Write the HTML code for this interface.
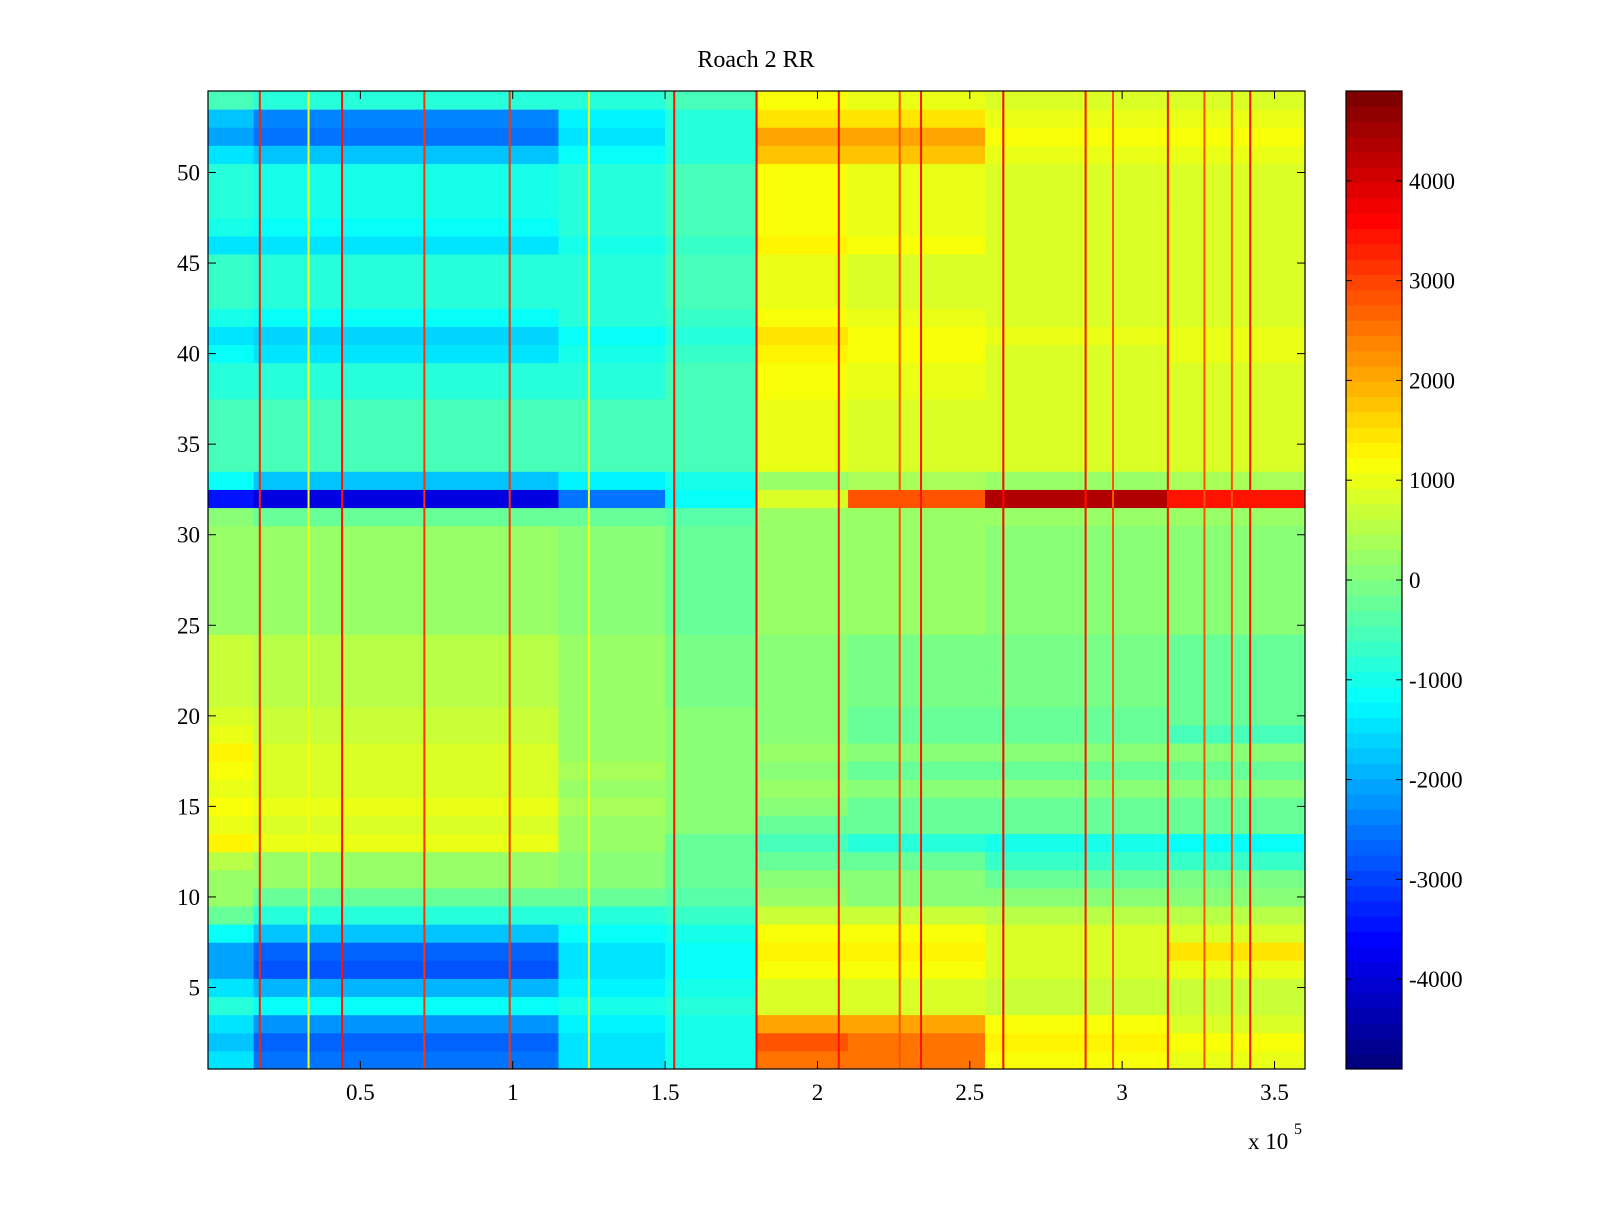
<!DOCTYPE html>
<html><head><meta charset="utf-8"><style>
body{margin:0;background:#fff;}
svg text{font-family:"Liberation Serif",serif;fill:#000;}
</style></head><body>
<svg id="chart" width="1600" height="1200" viewBox="0 0 1600 1200" xmlns="http://www.w3.org/2000/svg">
<rect x="0" y="0" width="1600" height="1200" fill="#fff"/>
<text x="756" y="67" font-size="24" text-anchor="middle">Roach 2 RR</text>
<g id="cells"></g>
<g id="spikes"></g>
<rect x="208" y="91" width="1097" height="978" fill="none" stroke="#000" stroke-width="1.2"/>
<g id="axes"></g>
<g id="cbar"></g>
<text x="1248" y="1149" font-size="23">x 10</text>
<text x="1294" y="1134" font-size="16">5</text>
</svg>
<script>
// x block edges (units of 1e5)
const blockEdges = [0, 0.15, 1.15, 1.5, 1.8, 2.1, 2.55, 3.15, 3.6];
// row values, row 1 (bottom) to row 54 (top)
const rowValues = [
[-1500,-2500,-1500,-1000,2600,2500,1200,1000],
[-1800,-2700,-1500,-1000,2800,2600,1300,1100],
[-1500,-2200,-1300,-1000,2000,2000,1100,900],
[-800,-1200,-1000,-900,900,900,700,700],
[-1500,-1900,-1300,-1000,800,800,700,700],
[-2000,-2800,-1500,-1200,1200,1200,900,1000],
[-2000,-2700,-1500,-1200,1300,1300,900,1500],
[-1200,-1700,-1200,-1000,1200,1100,800,900],
[-300,-800,-800,-700,700,700,500,600],
[200,-200,-300,-400,200,100,0,100],
[300,200,0,-200,0,0,-200,-100],
[500,300,0,-300,-200,-300,-700,-700],
[1300,1000,300,-200,-500,-800,-1000,-1100],
[1000,900,300,0,-200,-300,-300,-300],
[1200,1000,400,0,0,-200,-200,-200],
[1000,900,300,0,200,0,0,0],
[1200,800,400,0,0,-200,-200,-300],
[1300,800,300,0,200,0,0,0],
[1000,700,300,0,0,-300,-300,-500],
[800,700,200,0,0,-200,-200,-300],
[700,600,200,-100,100,-100,-100,-200],
[700,600,200,-100,100,-100,-100,-200],
[700,600,200,-100,100,-100,-100,-200],
[700,600,200,-100,100,-100,-100,-200],
[300,300,0,-200,200,200,100,0],
[300,300,0,-200,200,200,100,0],
[300,300,0,-200,200,200,100,0],
[300,300,0,-200,200,200,100,0],
[300,300,0,-200,200,200,100,0],
[300,300,0,-200,200,200,100,0],
[0,-200,-300,-400,300,300,300,300],
[-3500,-3900,-2500,-1200,800,2800,4300,3500],
[-1200,-1800,-1300,-1000,300,400,300,400],
[-500,-600,-600,-500,1000,900,800,800],
[-500,-600,-600,-500,1000,900,800,800],
[-500,-600,-600,-500,1000,900,800,800],
[-500,-600,-600,-500,1000,900,800,800],
[-800,-900,-800,-600,1100,1000,800,900],
[-800,-900,-800,-600,1100,1000,800,900],
[-1200,-1400,-1000,-700,1300,1200,900,1000],
[-1500,-1600,-1100,-800,1400,1200,1000,1000],
[-1000,-1200,-900,-700,1100,1000,800,900],
[-700,-800,-800,-600,1000,900,800,800],
[-700,-800,-800,-600,1000,900,800,800],
[-700,-800,-800,-600,1000,900,800,800],
[-1400,-1500,-1000,-700,1300,1100,900,900],
[-1000,-1100,-900,-600,1100,1000,800,800],
[-900,-1000,-900,-600,1100,1000,800,900],
[-900,-1000,-900,-600,1100,1000,800,900],
[-900,-1000,-900,-600,1100,1000,800,900],
[-1400,-1800,-1200,-800,1800,1700,1000,1000],
[-2000,-2600,-1400,-900,2000,2000,1100,1100],
[-1800,-2300,-1300,-900,1500,1400,1000,1000],
[-600,-800,-800,-600,1100,1000,800,800]
];
// vertical spike lines (x in 1e5 units) and their values
const spikeX = [0.17,0.33,0.44,0.71,0.99,1.25,1.53,1.80,2.07,2.27,2.34,2.61,2.88,2.97,3.15,3.27,3.36,3.42];
const spikeV = [3300,1100,3500,3200,3200,1100,3500,3600,3500,2800,3500,3600,3500,2800,3500,2800,2800,3500];
const xTicks = [0.5,1,1.5,2,2.5,3,3.5];
const xTickLabels = ["0.5","1","1.5","2","2.5","3","3.5"];
const yTicks = [5,10,15,20,25,30,35,40,45,50];
const cTicks = [-4000,-3000,-2000,-1000,0,1000,2000,3000,4000];

const PX0=208, PX1=1305, PY0=91, PY1=1069;
const xS = v => PX0 + (v/3.6)*(PX1-PX0);
const yS = v => PY1 - ((v-0.5)/54)*(PY1-PY0);
const CMIN=-4900, CMAX=4900;
function jet(t){
  t=Math.max(0,Math.min(1,t));
  const r=Math.max(0,Math.min(1,1.5-Math.abs(4*t-3)));
  const g=Math.max(0,Math.min(1,1.5-Math.abs(4*t-2)));
  const b=Math.max(0,Math.min(1,1.5-Math.abs(4*t-1)));
  return `rgb(${Math.round(r*255)},${Math.round(g*255)},${Math.round(b*255)})`;
}
const col = v => jet(Math.floor(((v-CMIN)/(CMAX-CMIN))*64)/63);
const NS="http://www.w3.org/2000/svg";
function mk(tag,attrs,parent){const e=document.createElementNS(NS,tag);for(const k in attrs)e.setAttribute(k,attrs[k]);parent.appendChild(e);return e;}

const cells=document.getElementById('cells');
rowValues.forEach((row,ri)=>{
  const r=ri+1;
  row.forEach((v,bi)=>{
    const x0=xS(blockEdges[bi]), x1=xS(blockEdges[bi+1]);
    const y0=yS(r+0.5), y1=yS(r-0.5);
    const e=mk('rect',{x:x0,y:y0,width:x1-x0+0.5,height:y1-y0+0.5,fill:col(v)},cells);
    
    
  });
});
const spikes=document.getElementById('spikes');
spikeX.forEach((x,i)=>{
  const e=mk('rect',{x:xS(x)-1,y:PY0,width:2,height:PY1-PY0,fill:col(spikeV[i])},spikes);
  
  
});
const axes=document.getElementById('axes');
xTicks.forEach((t,i)=>{
  const x=xS(t);
  mk('line',{x1:x,y1:PY1,x2:x,y2:PY1-8,stroke:'#000'},axes);
  mk('line',{x1:x,y1:PY0,x2:x,y2:PY0+8,stroke:'#000'},axes);
  const e=mk('text',{x:x,y:1100,'font-size':23,'text-anchor':'middle'},axes);
  e.textContent=xTickLabels[i];
  
  
});
yTicks.forEach(t=>{
  const y=yS(t);
  mk('line',{x1:PX0,y1:y,x2:PX0+8,y2:y,stroke:'#000'},axes);
  mk('line',{x1:PX1,y1:y,x2:PX1-8,y2:y,stroke:'#000'},axes);
  const e=mk('text',{x:200,y:y+8,'font-size':23,'text-anchor':'end'},axes);
  e.textContent=String(t);
  
  
});
const cbar=document.getElementById('cbar');
const CX0=1346, CX1=1402;
const cy = v => PY1 - ((v-CMIN)/(CMAX-CMIN))*(PY1-PY0);
for(let i=0;i<64;i++){
  const h=(PY1-PY0)/64;
  const e=mk('rect',{x:CX0,y:PY1-(i+1)*h,width:CX1-CX0,height:h+0.5,fill:jet(i/63)},cbar);
  
  
}
mk('rect',{x:CX0,y:PY0,width:CX1-CX0,height:PY1-PY0,fill:'none',stroke:'#000','stroke-width':1.2},cbar);
cTicks.forEach(t=>{
  const y=cy(t);
  mk('line',{x1:CX0,y1:y,x2:CX0+6,y2:y,stroke:'#000'},cbar);
  mk('line',{x1:CX1,y1:y,x2:CX1-6,y2:y,stroke:'#000'},cbar);
  const e=mk('text',{x:1409,y:y+8,'font-size':23},cbar);
  e.textContent=String(t);
  
  
});
</script>
</body></html>
